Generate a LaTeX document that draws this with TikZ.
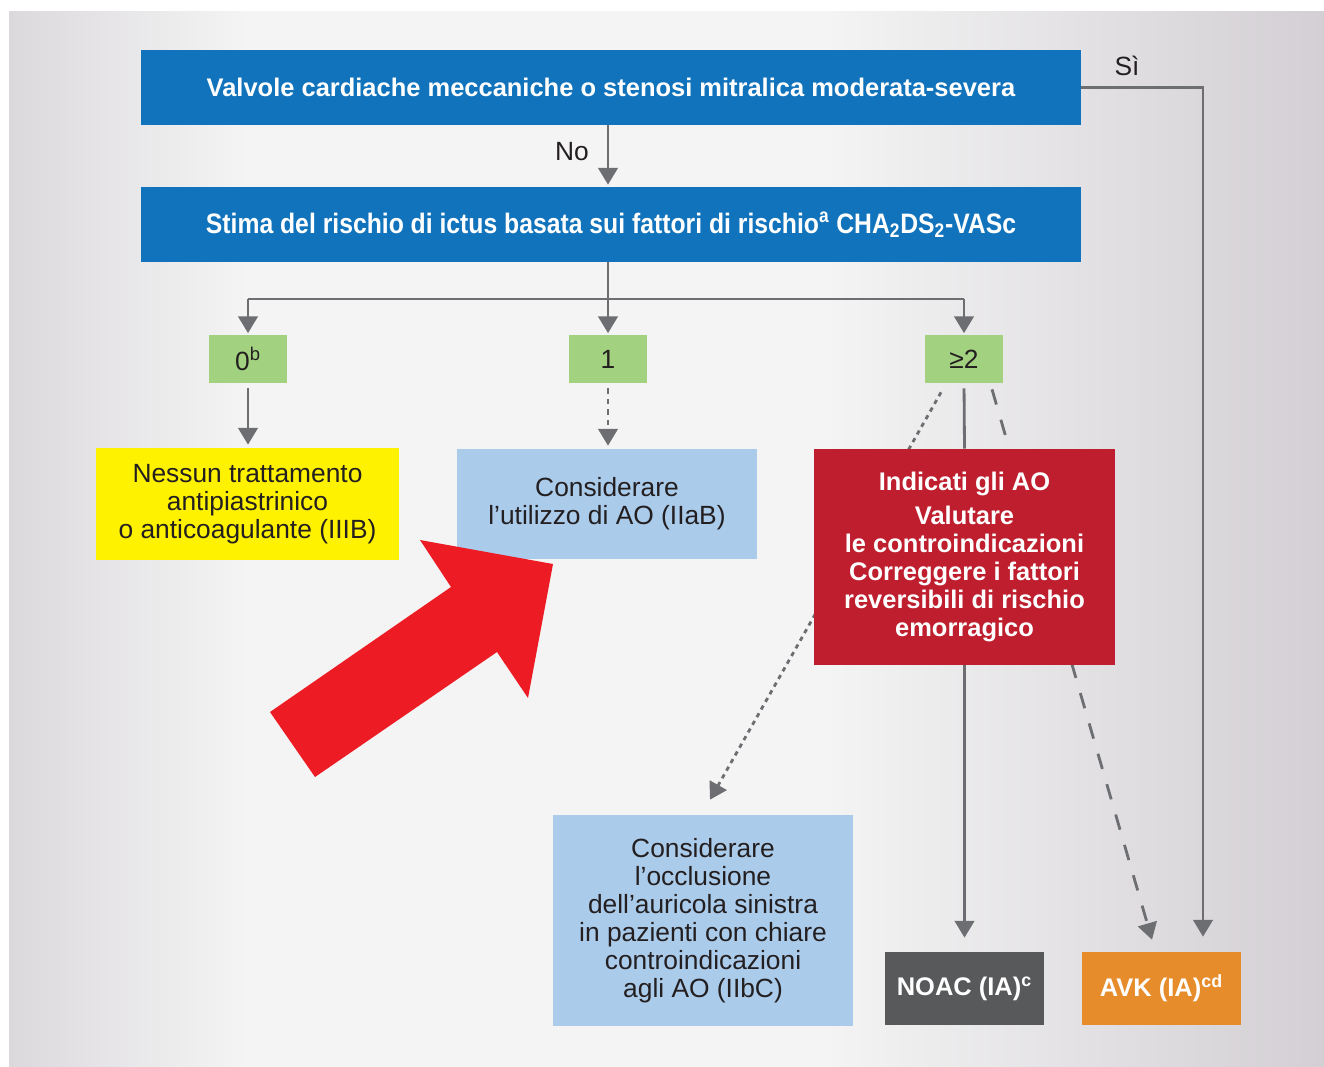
\documentclass[tikz,border=0pt]{standalone}
\usepackage{fontspec}
\setmainfont{Liberation Sans}
\usetikzlibrary{arrows.meta, positioning, calc, backgrounds}

\definecolor{boxblue}{RGB}{17,115,188}
\definecolor{boxgreen}{RGB}{162,209,128}
\definecolor{boxyellow}{RGB}{255,242,0}
\definecolor{boxlight}{RGB}{171,203,235}
\definecolor{boxred}{RGB}{190,30,45}
\definecolor{boxgrey}{RGB}{88,89,91}
\definecolor{boxorange}{RGB}{231,140,42}
\definecolor{linegrey}{RGB}{109,110,114}
\definecolor{textdark}{RGB}{35,31,32}
\definecolor{arrowred}{RGB}{237,28,36}
\definecolor{bgleft}{RGB}{220,217,221}
\definecolor{bgmid}{RGB}{244,244,244}
\definecolor{bgright}{RGB}{211,207,212}

% the picture's box is mapped onto 25bp..75bp of the shading
\pgfdeclarehorizontalshading{bgshade}{100bp}{color(0bp)=(bgleft); color(25bp)=(bgleft);
  color(34bp)=(bgmid); color(56bp)=(bgmid); color(75bp)=(bgright); color(100bp)=(bgright)}

\tikzset{
  boxsize/.style 2 args={minimum width=#1*0.02cm, minimum height=#2*0.02cm},
  box/.style={rectangle, inner sep=0pt, align=center, text=textdark,
    font=\fontsize{15}{16}\selectfont},
  whitebox/.style={box, text=white, font=\fontsize{14.5}{16}\selectfont\bfseries},
  line/.style={draw=linegrey, line width=1.6pt},
  conn/.style={line, -{Triangle[width=11pt,length=9.5pt]}},
  label/.style={text=textdark, font=\fontsize{15}{16}\selectfont}
}

\begin{document}
\begin{tikzpicture}[x=0.02cm, y=-0.02cm]
            % 1. Background
            \begin{scope}[on background layer]
                \fill[white] (0,0) rectangle (1324,1066);
                \shade[shading=bgshade] (9,11) rectangle (1324,1066);
            \end{scope}
            \useasboundingbox (0,0) rectangle (1324,1066);

            % 2. Boxes
            \node[whitebox, fill=boxblue, boxsize={940}{75}] (valvole) at (611,87.5)
                {Valvole cardiache meccaniche o stenosi mitralica moderata-severa};
            \node[whitebox, fill=boxblue, boxsize={940}{75}] (stima) at (611,224.5)
                {\fontsize{16}{16}\selectfont\scalebox{0.88}[1]{Stima del rischio di ictus basata sui fattori di rischio\textsuperscript{a} CHA\textsubscript{2}DS\textsubscript{2}-VASc}};

            \node[box, fill=boxgreen, boxsize={78}{48}] (zero) at (248,359) {0\textsuperscript{b}};
            \node[box, fill=boxgreen, boxsize={78}{48}] (one) at (608,359) {1};
            \node[box, fill=boxgreen, boxsize={78}{48}] (geq) at (964,359) {≥2};

            \node[box, fill=boxyellow, boxsize={303}{112}] (none) at (247.5,504)
                {Nessun trattamento\\antipiastrinico\\o anticoagulante (IIIB)};
            \node[box, fill=boxlight, boxsize={300}{110}] (consider) at (607,504)
                {Considerare\\l’utilizzo di AO (IIaB)};
            \node[whitebox, fill=boxred, boxsize={301}{216}] (red) at (964.5,557)
                {Indicati gli AO\\[3pt]Valutare\\le controindicazioni\\Correggere i fattori\\reversibili di rischio\\emorragico};
            \node[box, fill=boxlight, boxsize={300}{211}] (lowblue) at (703,920.5)
                {Considerare\\l’occlusione\\dell’auricola sinistra\\in pazienti con chiare\\controindicazioni\\agli AO (IIbC)};
            \node[whitebox, fill=boxgrey, boxsize={159}{73}] (noac) at (964.5,988.5)
                {NOAC (IA)\textsuperscript{c}};
            \node[whitebox, fill=boxorange, boxsize={159}{73}] (avk) at (1161.5,988.5)
                {AVK (IA)\textsuperscript{cd}};

            % the two long lines pass behind the red box
            \begin{scope}[on background layer]
                \draw[line, dash pattern=on 2.5pt off 2.5pt, -{Triangle[width=11pt,length=9.5pt]}]
                    ($(geq.south)+(-23,9)$) -- ($(lowblue.north)+(7,-15)$);
                \draw[line, dash pattern=on 9pt off 9pt, -{Triangle[width=11pt,length=9.5pt]}]
                    ($(geq.south)+(28,6)$) -- ($(avk.north)+(-9.5,-12)$);
            \end{scope}

            % 3. Connectors
            \coordinate (fork) at (608,299);
            \draw[conn, shorten >=0.3cm] (valvole.east) -| ($(avk.north)+(41.5,0)$);
            \draw[conn, shorten >=0.04cm] (valvole.south -| one) -- (stima.north -| one);
            \draw[line] (stima.south -| one) -- (fork);
            \draw[line] (zero.north |- fork) -- (geq.north |- fork);
            \foreach \n in {zero,one,geq} {
                \draw[conn, shorten >=0.03cm] (\n.north |- fork) -- (\n.north);
            }
            \draw[conn, shorten <=0.1cm, shorten >=0.06cm] (zero.south) -- (zero.south |- none.north);
            \draw[conn, dash pattern=on 3pt off 3pt, shorten <=0.1cm, shorten >=0.06cm] (one.south) -- (one.south |- consider.north);
            \draw[line, shorten <=0.1cm] (geq.south) -- (red.north);
            \draw[conn, shorten >=0.28cm] (red.south) -- (noac.north);

            % 4. Labels
            \node[label] (si) at (1127,66) {Sì};
            \node[label] (no) at (572,152) {No};

            % 5. Big red arrow
            \fill[arrowred] (270,712) -- (451,587) -- (420,540) -- (553,564)
                -- (528,698) -- (497,652) -- (315,777) -- cycle;
        \end{tikzpicture}
\end{document}
